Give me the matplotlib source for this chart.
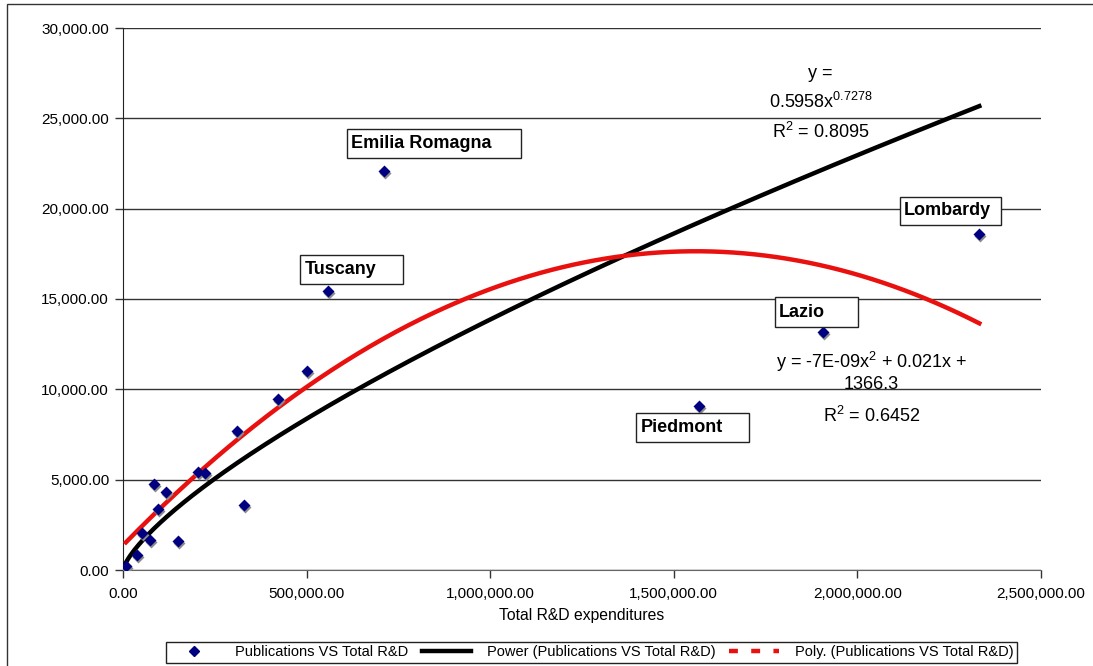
import matplotlib
matplotlib.use("Agg")
import matplotlib.pyplot as plt
import numpy as np
from matplotlib.lines import Line2D
from matplotlib.patches import Rectangle
from matplotlib.ticker import FuncFormatter
from matplotlib.transforms import offset_copy

plt.rcParams['font.family'] = ['Liberation Sans', 'DejaVu Sans']
plt.rcParams['mathtext.default'] = 'regular'

# regional R&D spending vs publication counts
rd_exp = [2332000, 1905000, 1569000, 712000, 559000, 500600, 422300, 311500,
          203500, 223400, 83600, 117000, 96300, 330600, 51000, 73600,
          149000, 37200, 8000]
pubs = [18600, 13150, 9090, 22100, 15460, 11010, 9460, 7710,
        5410, 5370, 4740, 4320, 3360, 3580, 2030, 1660,
        1600, 830, 240]
regions = ["Lombardy", "Lazio", "Piedmont", "Emilia Romagna", "Tuscany"]

# trend line coefficients (power and 2nd order poly)
pow_a, pow_b = 0.5958, 0.7278
poly_a, poly_b, poly_c = -6.69e-09, 0.02087, 1366.3

fig = plt.figure(figsize=(10.93, 6.66), dpi=100)
ax = fig.add_axes([123/1093, 96/666, 918/1093, 542/666])

ax.set_xlim(0, 2500000)
ax.set_ylim(0, 30000)
ax.set_xticks(np.arange(0, 2500001, 500000))
ax.set_yticks(np.arange(0, 30001, 5000))
fmt = FuncFormatter(lambda v, p: "{:,.2f}".format(v))
ax.xaxis.set_major_formatter(fmt)
ax.yaxis.set_major_formatter(fmt)
ax.tick_params(axis='both', direction='out', length=6, width=1, labelsize=11,
               color='#333333')
ax.tick_params(axis='x', pad=6)
ax.tick_params(axis='y', pad=4)
ax.grid(axis='y', color='#333333', linewidth=1)
ax.set_axisbelow(True)
for s in ['top', 'right']:
    ax.spines[s].set_visible(False)
ax.spines['left'].set_color('#222222')
ax.spines['bottom'].set_color('#666666')
ax.set_xlabel("Total R&D expenditures", fontsize=11.3, labelpad=5)

# trend lines
xs = np.linspace(min(rd_exp), max(rd_exp), 400)
ax.plot(xs, pow_a * xs ** pow_b, color='black', lw=3.2, zorder=3)
ax.plot(xs, poly_a * xs ** 2 + poly_b * xs + poly_c, color='#e8110f', lw=3.2, zorder=3)

# points with a little grey drop shadow
shadow = offset_copy(ax.transData, fig=fig, x=1, y=-2, units='dots')
ax.plot(rd_exp, pubs, 'D', ms=6, color='#8a8a8a', mec='none', transform=shadow, zorder=4)
ax.plot(rd_exp, pubs, 'D', ms=6, color='#000080', mec='none', zorder=5)

# region name boxes: (x0, y0, width, height) in data units
boxes = {
    "Lombardy": (2115300, 19105, 276300, 1554),
    "Lazio": (1774700, 13464, 227200, 1627),
    "Piedmont": (1397000, 7084, 306800, 1588),
    "Emilia Romagna": (609500, 22817, 474200, 1588),
    "Tuscany": (482300, 15827, 279800, 1605),
}
for name in regions:
    x0, y0, w, h = boxes[name]
    ax.add_patch(Rectangle((x0, y0), w, h, facecolor='white', edgecolor='#222222',
                           lw=1, zorder=6))
    ax.text(x0 + 12000, y0 + h / 2, name, fontsize=13, fontweight='bold',
            ha='left', va='center', zorder=7)

# equations
ax.text(1900000, 27500, "y =", fontsize=13, ha='center', va='center')
ax.text(1900000, 25900, "0.5958x$^{0.7278}$", fontsize=13, ha='center', va='center')
ax.text(1900000, 24250, "R$^{2}$ = 0.8095", fontsize=13, ha='center', va='center')
ax.text(2038000, 11500, "y = -7E-09x$^{2}$ + 0.021x +", fontsize=13, ha='center', va='center')
ax.text(2038000, 10250, "1366.3", fontsize=13, ha='center', va='center')
ax.text(2038000, 8500, "R$^{2}$ = 0.6452", fontsize=13, ha='center', va='center')

handles = [
    Line2D([], [], marker='D', ms=5, color='#000080', ls='none'),
    Line2D([], [], color='black', lw=3.2),
    Line2D([], [], color='#e8110f', lw=3.2, ls=(0, (2, 3))),
]
labels = ["Publications VS Total R&D",
          "Power (Publications VS Total R&D)",
          "Poly. (Publications VS Total R&D)"]
leg = fig.legend(handles, labels, loc='lower center', ncol=3,
                 bbox_to_anchor=(591.5/1093, 3/666), fontsize=10.5,
                 fancybox=False, edgecolor='#222222', framealpha=1,
                 handlelength=3.4, handletextpad=1.1, columnspacing=0.9,
                 borderpad=0.25, borderaxespad=0)
leg.get_frame().set_linewidth(1)

# outer chart border
fig.patches.append(Rectangle((7/1093, -0.01), 1.2, 1 - 4/666 + 0.01,
                             transform=fig.transFigure, fill=False,
                             edgecolor='#333333', lw=1))

fig.savefig("out.png", dpi=100)
